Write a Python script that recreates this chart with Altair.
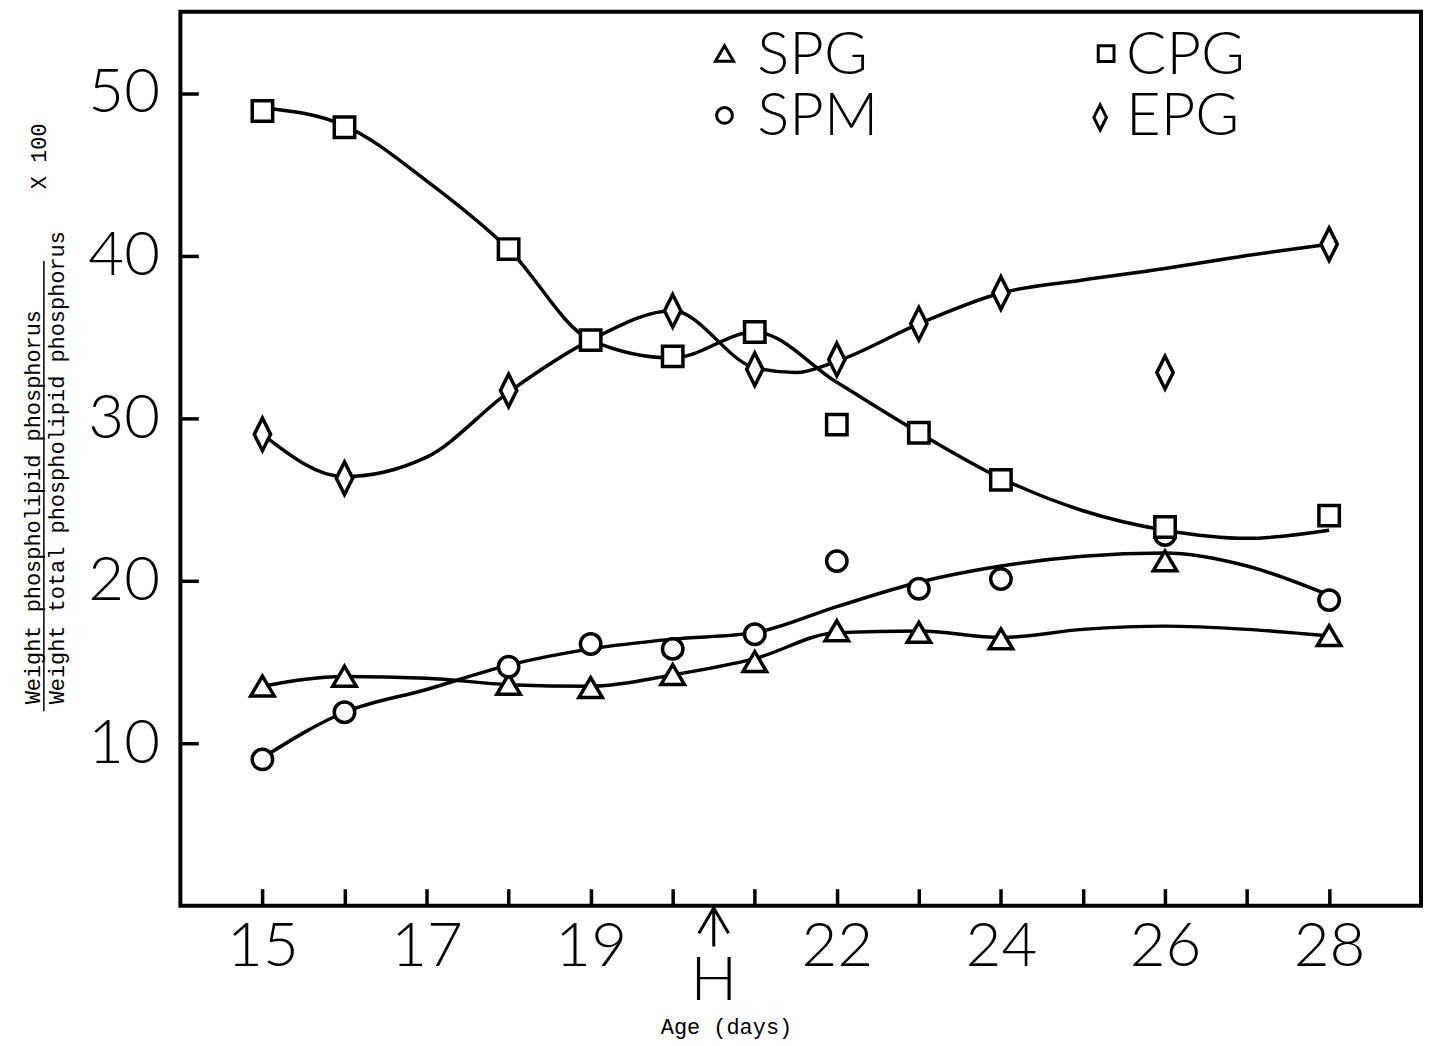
import altair as alt
import pandas as pd

days = [15, 16, 18, 19, 20, 21, 22, 23, 24, 26, 28]
spg = [13.5, 14.1, 13.6, 13.4, 14.2, 15.0, 16.9, 16.8, 16.4, 21.2, 16.6]
spm = [9.0, 11.9, 14.7, 16.1, 15.8, 16.7, 21.2, 19.5, 20.1, 22.8, 18.8]
cpg = [48.9, 47.9, 40.4, 34.8, 33.8, 35.3, 29.6, 29.1, 26.2, 23.3, 24.0]
epg_days = [15, 16, 18, 20, 21, 22, 23, 24, 26, 28]
epg = [29.0, 26.3, 31.7, 36.6, 33.0, 33.6, 35.8, 37.7, 32.8, 40.7]

# ---- hand-drawn smooth curves (knots) ----
curve_days = [15, 16, 17, 18, 19, 20, 21, 22, 23, 24, 25, 26, 27, 28]
spg_curve = [13.5, 14.1, 14.0, 13.6, 13.5, 14.2, 15.2, 16.8, 16.9, 16.5, 17.0, 17.2, 17.0, 16.6]
spm_curve = [9.1, 11.9, 13.3, 14.8, 15.8, 16.4, 16.8, 18.4, 19.9, 20.9, 21.5, 21.7, 20.9, 19.1]
cpg_curve = [49.1, 48.0, 44.6, 40.4, 34.8, 33.7, 35.3, 32.2, 29.1, 26.3, 24.3, 23.1, 22.6, 23.1]
epg_curve_days = [15, 16, 17, 18, 19, 20, 21, 21.5, 22, 23, 24, 25, 26, 27, 28]
epg_curve = [29.0, 26.4, 27.6, 31.6, 34.8, 36.6, 33.1, 32.8, 33.5, 35.8, 37.7, 38.5, 39.2, 40.0, 40.7]

x_ticks = list(range(15, 29))
x_labels = [15, 17, 19, 22, 24, 26, 28]
y_ticks = [10, 20, 30, 40, 50]
hatch_day = 20.5

series_order = ["SPG", "SPM", "CPG", "EPG"]
TRI = "M0,-1L1.15,0.95L-1.15,0.95Z"
DIAMOND = "M0,-1.6L0.8,0L0,1.6L-0.8,0Z"
shape_range = [TRI, "circle", "square", DIAMOND]
shape_scale = alt.Scale(domain=series_order, range=shape_range)

rows = []
for name, xs, ys in [("SPG", days, spg), ("SPM", days, spm), ("CPG", days, cpg), ("EPG", epg_days, epg)]:
    for a, b in zip(xs, ys):
        rows.append({"day": a, "value": b, "series": name})
points_df = pd.DataFrame(rows)

crow = []
for name, xs, ys in [("SPG", curve_days, spg_curve), ("SPM", curve_days, spm_curve),
                     ("CPG", curve_days, cpg_curve), ("EPG", epg_curve_days, epg_curve)]:
    for a, b in zip(xs, ys):
        crow.append({"day": a, "value": b, "series": name})
curves_df = pd.DataFrame(crow)

W, H = 1245, 897
NUM_FONT = "Lato"
TXT_FONT = "Liberation Mono"

label_list = ",".join(str(v) for v in x_labels)
xscale = alt.Scale(domain=[14, 29.12], nice=False, zero=False)
yscale = alt.Scale(domain=[0, 55], nice=False, zero=False)

xaxis = alt.Axis(values=x_ticks, format="d",
                 labelExpr=f"indexof([{label_list}], datum.value) >= 0 ? datum.label : ''",
                 offset=-17, tickSize=17, tickWidth=3.5, tickColor="black", domain=False, grid=False,
                 labelFont=NUM_FONT, labelFontSize=62, labelFontWeight=300, labelColor="black",
                 labelPadding=11, labelBaseline="top", title="", labelFlush=False, labelOverlap=False)
yaxis = alt.Axis(values=y_ticks, format="d", offset=-18, tickSize=18, tickWidth=3.5, tickColor="black",
                 domain=False, grid=False, labelFont=NUM_FONT, labelFontSize=62, labelFontWeight=300,
                 labelColor="black", labelPadding=21, title="", labelFlush=False, labelOverlap=False)

base_x = alt.X("day:Q", scale=xscale, axis=xaxis)
base_y = alt.Y("value:Q", scale=yscale, axis=yaxis)

lines = alt.Chart(curves_df).mark_line(color="black", strokeWidth=3.5, interpolate="monotone").encode(
    x=base_x, y=base_y, detail="series:N"
)

pts = alt.Chart(points_df).mark_point(filled=False, fill="white", fillOpacity=1, stroke="black",
                                      strokeWidth=3.5, size=420, opacity=1).encode(
    x=alt.X("day:Q", scale=xscale),
    y=alt.Y("value:Q", scale=yscale),
    shape=alt.Shape("series:N", scale=shape_scale, legend=None),
)

# ---- legend (2 x 2 block at the top) ----
legend_layout = [("SPG", 546, 42, 579, 44), ("SPM", 546, 104, 579, 106),
                 ("CPG", 929, 42, 949, 44), ("EPG", 923, 106, 949, 106)]
legend_layers = []
for name, sx, sy, tx, ty in legend_layout:
    ldf = pd.DataFrame({"series": [name]})
    legend_layers.append(
        alt.Chart(ldf).mark_point(filled=False, fill="white", fillOpacity=1, stroke="black",
                                  strokeWidth=3, size=250, opacity=1).encode(
            x=alt.value(sx), y=alt.value(sy), shape=alt.Shape("series:N", scale=shape_scale, legend=None))
    )
    legend_layers.append(
        alt.Chart(ldf).mark_text(font=NUM_FONT, fontSize=60, fontWeight=300, color="black",
                                 align="left", baseline="middle").encode(
            x=alt.value(tx), y=alt.value(ty), text="series:N")
    )

hdf = pd.DataFrame({"day": [hatch_day], "t": ["H"]})
arrow_shaft = alt.Chart(hdf).mark_rule(color="black", strokeWidth=3).encode(
    x=alt.X("day:Q", scale=xscale), y=alt.value(900), y2=alt.value(938)
)
arrow_head = alt.Chart(hdf).mark_point(shape="M-0.7,0.6L0,-0.6L0.7,0.6", size=1800, filled=False,
                                       stroke="black", strokeWidth=3, opacity=1).encode(
    x=alt.X("day:Q", scale=xscale), y=alt.value(912)
)
h_text = alt.Chart(hdf).mark_text(font=NUM_FONT, fontSize=62, fontWeight=300, color="black",
                                  baseline="middle", align="center").encode(
    x=alt.X("day:Q", scale=xscale), y=alt.value(973), text="t:N"
)

def label(text, x, y, angle=0, align="center", size=22):
    return alt.Chart(pd.DataFrame({"t": [text]})).mark_text(
        font=TXT_FONT, fontSize=size, color="black", angle=angle, align=align, baseline="middle"
    ).encode(x=alt.value(x), y=alt.value(y), text="t:N")

xtitle = label("Age (days)", 548, 1019)
num = label("Weight phospholipid phosphorus", -148, 695, angle=270, align="left")
den = label("Weight total phospholipid phosphorus", -124, 695, angle=270, align="left")
x100 = label("X 100", -142, 145, angle=270, align="center")
bar = alt.Chart(pd.DataFrame({"t": [0]})).mark_rule(color="black", strokeWidth=1.5).encode(
    x=alt.value(-137), y=alt.value(250), y2=alt.value(702)
)

chart = alt.layer(lines, pts, *legend_layers, arrow_shaft, arrow_head, h_text, xtitle, num, den,
                  x100, bar).properties(
    width=W, height=H,
    background="white",
    autosize=alt.AutoSizeParams(type="none"),
    padding={"left": 173, "top": 2, "right": 6, "bottom": 135},
).configure_view(stroke="black", strokeWidth=4)

chart.save("out.html", embed_options={"renderer": "svg", "actions": False})
